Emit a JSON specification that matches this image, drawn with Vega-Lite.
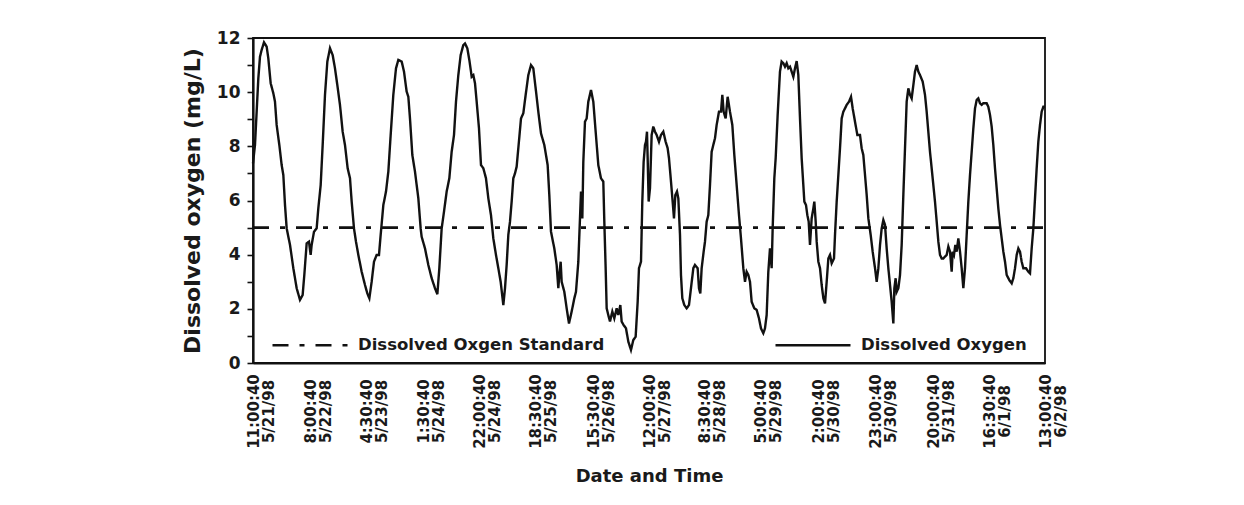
{
  "$schema": "https://vega.github.io/schema/vega-lite/v6.json",
  "width": 792,
  "height": 325,
  "autosize": {"type": "none"},
  "padding": {"left": 253, "top": 38, "right": 199, "bottom": 142},
  "background": "white",
  "config": {
    "font": "DejaVu Sans",
    "view": {"stroke": "#111", "strokeWidth": 1.8},
    "axis": {
      "labelFont": "DejaVu Sans", "labelFontWeight": "bold", "labelColor": "#1a1a1a",
      "titleFont": "DejaVu Sans", "titleFontWeight": "bold", "titleColor": "#1a1a1a",
      "grid": false, "domainColor": "#111", "domainWidth": 2.2, "tickColor": "#111"
    }
  },
  "encoding": {
    "x": {
      "field": "t", "type": "quantitative",
      "scale": {"domain": [0, 290], "nice": false, "zero": false},
      "axis": {
        "title": "Date and Time",
        "values": [0, 21, 41.5, 62.5, 83, 103.5, 124.5, 145, 165.5, 186, 207, 228, 249, 269.5, 290],
        "labelExpr": "[timeFormat(time(datetime(1998,4,21,11,0,40)) + datum.value*3600000, '%-H:%M:%S'), timeFormat(time(datetime(1998,4,21,11,0,40)) + datum.value*3600000, '%-m/%-d/%y')]",
        "labelAngle": 270, "labelAlign": "center", "labelBaseline": "middle",
        "labelFontSize": 15, "labelLineHeight": 15, "labelPadding": 48,
        "ticks": false, "tickSize": 0, "labelFlush": false, "labelOverlap": false, "labelBound": false,
        "titleFontSize": 18, "titlePadding": 19
      }
    },
    "y": {
      "field": "v", "type": "quantitative",
      "scale": {"domain": [0, 12], "nice": false},
      "axis": {
        "title": "Dissolved oxygen (mg/L)",
        "values": [0, 1, 2, 3, 4, 5, 6, 7, 8, 9, 10, 11, 12],
        "labelExpr": "datum.value % 2 == 0 ? datum.label : ''",
        "tickSize": 6, "tickWidth": 1.6, "labelFontSize": 17, "labelPadding": 7,
        "labelOverlap": false, "labelFlush": false,
        "titleFontSize": 22, "titlePadding": 12
      }
    }
  },
  "layer": [
    {
      "data": {"values": [{"t": 0, "v": 5}, {"t": 290, "v": 5}]},
      "mark": {"type": "line", "strokeWidth": 2.8},
      "encoding": {
        "color": {
          "datum": "Dissolved Oxgen Standard",
          "scale": {"domain": ["Dissolved Oxgen Standard", "Dissolved Oxygen"], "range": ["#111", "#111"]},
          "legend": {
            "title": null, "orient": "bottom-left", "direction": "horizontal", "columns": 2, "columnPadding": 160,
            "symbolType": "stroke", "symbolSize": 5625, "symbolStrokeWidth": 2.6, "symbolStrokeColor": "#111", "symbolOffset": 9,
            "labelFontSize": 16.5, "labelFont": "DejaVu Sans", "labelFontWeight": "bold", "labelColor": "#1a1a1a",
            "labelLimit": 400, "labelOffset": 9, "offset": 9, "padding": 0
          }
        },
        "strokeDash": {
          "datum": "Dissolved Oxgen Standard",
          "scale": {"domain": ["Dissolved Oxgen Standard", "Dissolved Oxygen"], "range": [[16, 11, 5, 11], [1, 0]]},
          "legend": {
            "title": null, "orient": "bottom-left", "direction": "horizontal", "columns": 2, "columnPadding": 160,
            "symbolType": "stroke", "symbolSize": 5625, "symbolStrokeWidth": 2.6, "symbolStrokeColor": "#111", "symbolOffset": 9,
            "labelFontSize": 16.5, "labelFont": "DejaVu Sans", "labelFontWeight": "bold", "labelColor": "#1a1a1a",
            "labelLimit": 400, "labelOffset": 9, "offset": 9, "padding": 0
          }
        }
      }
    },
    {
      "data": {"values": [
        {"t":0,"v":7.37},{"t":0.73,"v":8.05},{"t":1.34,"v":9.28},{"t":1.95,"v":10.51},{"t":2.56,"v":11.31},{"t":3.17,"v":11.56},{"t":4.03,"v":11.84},{"t":5.0,"v":11.68},{"t":5.61,"v":11.25},{"t":6.47,"v":10.33},{"t":7.44,"v":9.96},{"t":8.05,"v":9.65},{"t":8.66,"v":8.79},{"t":9.64,"v":8.05},{"t":10.49,"v":7.31},{"t":11.11,"v":6.94},{"t":11.72,"v":5.83},{"t":12.33,"v":4.97},{"t":13.55,"v":4.36},{"t":14.77,"v":3.5},{"t":15.99,"v":2.76},{"t":17.21,"v":2.33},{"t":18.18,"v":2.51},{"t":18.79,"v":3.25},{"t":19.65,"v":4.42},{"t":20.5,"v":4.48},{"t":21.11,"v":3.99},{"t":21.48,"v":4.36},{"t":22.34,"v":4.85},{"t":23.31,"v":4.97},{"t":23.92,"v":5.71},{"t":24.78,"v":6.57},{"t":25.51,"v":8.05},{"t":26.36,"v":9.9},{"t":27.22,"v":11.13},{"t":28.19,"v":11.62},{"t":29.17,"v":11.37},{"t":30.02,"v":10.88},{"t":30.88,"v":10.26},{"t":31.85,"v":9.53},{"t":32.83,"v":8.54},{"t":33.68,"v":8.05},{"t":34.66,"v":7.19},{"t":35.52,"v":6.82},{"t":36.13,"v":5.96},{"t":36.98,"v":4.97},{"t":37.71,"v":4.48},{"t":38.57,"v":3.99},{"t":39.79,"v":3.37},{"t":41.01,"v":2.88},{"t":41.86,"v":2.57},{"t":42.6,"v":2.39},{"t":43.45,"v":3.0},{"t":44.3,"v":3.74},{"t":45.28,"v":3.99},{"t":46.13,"v":3.99},{"t":46.75,"v":4.73},{"t":47.72,"v":5.83},{"t":48.7,"v":6.33},{"t":49.55,"v":7.06},{"t":50.41,"v":8.42},{"t":51.38,"v":9.9},{"t":52.36,"v":10.88},{"t":53.21,"v":11.19},{"t":54.44,"v":11.13},{"t":55.29,"v":10.76},{"t":56.26,"v":10.02},{"t":56.88,"v":9.83},{"t":57.48,"v":9.03},{"t":58.34,"v":7.68},{"t":59.32,"v":7.06},{"t":60.54,"v":6.08},{"t":61.39,"v":4.97},{"t":61.76,"v":4.66},{"t":62.98,"v":4.23},{"t":64.2,"v":3.62},{"t":65.42,"v":3.13},{"t":66.64,"v":2.76},{"t":67.5,"v":2.54},{"t":68.23,"v":3.5},{"t":69.08,"v":4.97},{"t":69.94,"v":5.59},{"t":70.91,"v":6.33},{"t":71.89,"v":6.82},{"t":72.74,"v":7.8},{"t":73.6,"v":8.42},{"t":74.33,"v":9.65},{"t":75.18,"v":10.63},{"t":76.04,"v":11.37},{"t":77.01,"v":11.74},{"t":77.62,"v":11.8},{"t":78.48,"v":11.62},{"t":79.21,"v":11.19},{"t":79.82,"v":10.76},{"t":80.07,"v":10.57},{"t":80.68,"v":10.63},{"t":81.29,"v":10.33},{"t":81.9,"v":9.65},{"t":82.75,"v":8.66},{"t":83.48,"v":7.31},{"t":84.34,"v":7.19},{"t":85.31,"v":6.82},{"t":86.17,"v":6.08},{"t":87.14,"v":5.46},{"t":88.0,"v":4.6},{"t":88.97,"v":3.99},{"t":89.83,"v":3.5},{"t":90.68,"v":3.0},{"t":91.66,"v":2.14},{"t":92.27,"v":2.76},{"t":92.88,"v":3.62},{"t":93.49,"v":4.73},{"t":94.1,"v":5.22},{"t":94.71,"v":5.96},{"t":95.32,"v":6.82},{"t":95.93,"v":7.0},{"t":96.54,"v":7.25},
        {"t":97.15,"v":7.93},{"t":98.13,"v":9.03},{"t":98.98,"v":9.22},{"t":99.84,"v":9.9},{"t":100.81,"v":10.63},{"t":101.79,"v":11.0},{"t":102.64,"v":10.88},{"t":103.5,"v":10.14},{"t":104.47,"v":9.28},{"t":105.45,"v":8.48},{"t":106.67,"v":8.05},{"t":107.89,"v":7.31},{"t":108.5,"v":6.2},{"t":109.11,"v":4.85},{"t":110.33,"v":4.23},{"t":111.19,"v":3.62},{"t":111.8,"v":2.76},{"t":112.16,"v":3.25},{"t":112.65,"v":3.74},{"t":113.02,"v":3.0},{"t":113.99,"v":2.63},{"t":114.85,"v":2.02},{"t":115.7,"v":1.46},{"t":116.68,"v":1.9},{"t":117.66,"v":2.39},{"t":118.26,"v":2.63},{"t":119.12,"v":3.74},{"t":119.73,"v":5.34},{"t":120.1,"v":6.33},{"t":120.59,"v":5.34},{"t":120.95,"v":7.43},{"t":121.56,"v":8.91},{"t":122.17,"v":9.03},{"t":122.78,"v":9.65},{"t":123.76,"v":10.08},{"t":124.61,"v":9.65},{"t":125.47,"v":8.54},{"t":126.44,"v":7.31},{"t":127.42,"v":6.82},{"t":128.27,"v":6.7},{"t":128.64,"v":5.22},{"t":129.13,"v":3.5},{"t":129.5,"v":2.02},{"t":130.1,"v":1.77},{"t":130.72,"v":1.53},{"t":131.57,"v":1.9},{"t":132.3,"v":1.65},{"t":133.16,"v":2.02},{"t":133.77,"v":1.77},{"t":134.5,"v":2.14},{"t":134.99,"v":1.53},{"t":135.72,"v":1.4},{"t":136.57,"v":1.28},{"t":137.43,"v":0.79},{"t":138.4,"v":0.48},{"t":139.26,"v":0.85},{"t":140.11,"v":0.97},{"t":140.85,"v":2.26},{"t":141.33,"v":3.5},{"t":142.07,"v":3.74},{"t":142.55,"v":5.96},{"t":143.04,"v":7.43},{"t":143.53,"v":8.05},{"t":143.9,"v":8.17},{"t":144.26,"v":8.54},{"t":144.51,"v":7.56},{"t":144.87,"v":5.96},{"t":145.36,"v":6.45},{"t":145.97,"v":8.42},{"t":146.58,"v":8.73},{"t":147.19,"v":8.54},{"t":147.8,"v":8.42},{"t":148.66,"v":8.17},{"t":149.39,"v":8.42},{"t":150.24,"v":8.54},{"t":151.1,"v":8.17},{"t":151.83,"v":7.93},{"t":152.32,"v":7.56},{"t":153.05,"v":6.7},{"t":153.66,"v":5.96},{"t":154.15,"v":5.34},{"t":154.64,"v":6.2},{"t":155.25,"v":6.33},{"t":155.74,"v":6.08},{"t":156.35,"v":4.73},{"t":156.71,"v":3.25},{"t":157.2,"v":2.39},{"t":157.93,"v":2.14},{"t":158.79,"v":2.02},{"t":159.64,"v":2.14},{"t":160.37,"v":2.76},{"t":161.23,"v":3.5},{"t":161.84,"v":3.62},{"t":162.81,"v":3.5},{"t":163.3,"v":2.76},{"t":163.79,"v":2.57},{"t":164.28,"v":3.5},{"t":165.01,"v":4.11},{"t":165.5,"v":4.48},{"t":166.11,"v":5.22},{"t":166.72,"v":5.46},{"t":167.33,"v":6.57},{"t":167.94,"v":7.8},{"t":169.16,"v":8.3},{"t":169.77,"v":8.79},{"t":170.63,"v":9.28},{"t":171.36,"v":9.28},{"t":171.85,"v":9.9},{"t":172.33,"v":9.28},{"t":173.07,"v":9.03},{"t":173.8,"v":9.83},{"t":174.65,"v":9.28},{"t":175.51,"v":8.79},{"t":176.24,"v":7.68},{"t":177.1,"v":6.57},{"t":177.95,"v":5.46},{"t":178.68,"v":4.6},{"t":179.54,"v":3.5},{"t":180.15,"v":3.0},{"t":180.76,"v":3.37},{"t":181.37,"v":3.25},{"t":181.98,"v":3.0},{"t":182.59,"v":2.26},{"t":183.56,"v":2.02},{"t":184.42,"v":1.96},{"t":185.27,"v":1.65},{"t":186.0,"v":1.28},{"t":186.86,"v":1.1},{"t":187.47,"v":1.28},{"t":188.08,"v":1.77},{"t":188.69,"v":3.37},{"t":189.3,"v":4.23},{"t":189.91,"v":3.5},{"t":190.28,"v":4.97},{"t":190.89,"v":6.82},{"t":191.38,"v":7.56},{"t":192.11,"v":9.16},{"t":192.96,"v":10.76},{"t":193.57,"v":11.13},
        {"t":194.19,"v":11.07},{"t":194.8,"v":10.94},{"t":195.41,"v":11.07},{"t":196.02,"v":10.88},{"t":196.63,"v":10.94},{"t":197.24,"v":10.76},{"t":197.85,"v":10.57},{"t":198.46,"v":10.88},{"t":199.07,"v":11.15},{"t":199.68,"v":10.63},{"t":200.29,"v":9.03},{"t":200.9,"v":7.56},{"t":201.51,"v":6.57},{"t":201.88,"v":5.96},{"t":202.49,"v":5.83},{"t":202.98,"v":5.46},{"t":203.47,"v":5.22},{"t":203.95,"v":4.36},{"t":204.56,"v":5.34},{"t":205.18,"v":5.71},{"t":205.54,"v":5.96},{"t":206.03,"v":5.22},{"t":206.4,"v":4.48},{"t":207.01,"v":3.74},{"t":207.62,"v":3.5},{"t":208.23,"v":2.88},{"t":208.84,"v":2.39},{"t":209.45,"v":2.2},{"t":210.06,"v":3.0},{"t":210.67,"v":3.86},{"t":211.28,"v":3.99},{"t":211.89,"v":3.68},{"t":212.74,"v":3.86},{"t":213.11,"v":4.73},{"t":213.72,"v":5.96},{"t":214.33,"v":6.94},{"t":214.94,"v":7.93},{"t":215.55,"v":9.03},{"t":216.16,"v":9.28},{"t":216.77,"v":9.4},{"t":217.38,"v":9.53},{"t":218.24,"v":9.65},{"t":218.97,"v":9.83},{"t":219.58,"v":9.4},{"t":220.43,"v":8.91},{"t":221.29,"v":8.42},{"t":222.26,"v":8.42},{"t":222.87,"v":7.93},{"t":223.48,"v":7.68},{"t":224.1,"v":6.94},{"t":224.71,"v":6.2},{"t":225.32,"v":5.34},{"t":226.17,"v":4.73},{"t":226.9,"v":4.11},{"t":227.76,"v":3.5},{"t":228.37,"v":3.0},{"t":228.98,"v":3.5},{"t":229.59,"v":4.36},{"t":230.2,"v":4.97},{"t":230.81,"v":5.28},{"t":231.42,"v":5.1},{"t":232.03,"v":4.23},{"t":232.64,"v":3.5},{"t":233.25,"v":2.88},{"t":233.86,"v":2.26},{"t":234.47,"v":1.46},{"t":234.84,"v":2.76},{"t":235.32,"v":3.13},{"t":235.69,"v":2.63},{"t":236.3,"v":2.76},{"t":236.91,"v":3.25},{"t":237.52,"v":4.36},{"t":238.13,"v":6.2},{"t":238.74,"v":7.93},{"t":239.35,"v":9.65},{"t":239.96,"v":10.14},{"t":240.57,"v":9.9},{"t":241.18,"v":9.77},{"t":241.79,"v":10.26},{"t":242.4,"v":10.76},{"t":243.01,"v":11.0},{"t":243.62,"v":10.76},{"t":244.23,"v":10.63},{"t":245.21,"v":10.39},{"t":246.06,"v":9.9},{"t":246.67,"v":9.28},{"t":247.28,"v":8.54},{"t":247.89,"v":7.8},{"t":248.87,"v":6.82},{"t":249.72,"v":5.96},{"t":250.34,"v":5.22},{"t":250.95,"v":4.48},{"t":251.56,"v":3.99},{"t":252.17,"v":3.86},{"t":252.78,"v":3.86},{"t":253.39,"v":3.93},{"t":254.0,"v":3.99},{"t":254.61,"v":4.3},{"t":255.22,"v":4.11},{"t":255.83,"v":3.37},{"t":256.19,"v":4.11},{"t":256.68,"v":3.99},{"t":257.17,"v":4.36},{"t":257.66,"v":4.11},{"t":258.27,"v":4.6},{"t":258.88,"v":4.11},{"t":259.49,"v":3.5},{"t":260.1,"v":2.76},{"t":260.71,"v":3.5},{"t":261.32,"v":4.73},{"t":261.93,"v":5.96},{"t":262.54,"v":6.94},{"t":263.15,"v":7.8},{"t":263.76,"v":8.66},{"t":264.37,"v":9.4},{"t":264.98,"v":9.71},{"t":265.59,"v":9.77},{"t":266.2,"v":9.59},{"t":266.81,"v":9.53},{"t":267.42,"v":9.59},{"t":268.64,"v":9.59},{"t":269.25,"v":9.46},{"t":269.86,"v":9.16},{"t":270.47,"v":8.73},{"t":271.08,"v":8.05},{"t":271.69,"v":7.19},{"t":272.3,"v":6.45},{"t":272.91,"v":5.71},{"t":273.53,"v":5.1},{"t":274.14,"v":4.6},{"t":274.75,"v":4.11},{"t":275.36,"v":3.74},{"t":275.97,"v":3.25},{"t":276.94,"v":3.06},{"t":277.8,"v":2.94},{"t":278.41,"v":3.13},{"t":279.02,"v":3.5},{"t":279.63,"v":3.99},{"t":280.24,"v":4.23},{"t":280.85,"v":4.11},{"t":281.46,"v":3.74},{"t":282.07,"v":3.5},{"t":283.05,"v":3.5},{"t":283.9,"v":3.37},{"t":284.51,"v":3.31},{"t":285.12,"v":4.23},{"t":285.73,"v":4.97},{"t":286.34,"v":6.08},{"t":286.95,"v":7.19},{"t":287.56,"v":8.17},{"t":288.17,"v":8.79},{"t":288.78,"v":9.28},{"t":289.39,"v":9.46},{"t":290.0,"v":9.46}
      ]},
      "mark": {"type": "line", "strokeWidth": 2.4},
      "encoding": {
        "color": {"datum": "Dissolved Oxygen"},
        "strokeDash": {"datum": "Dissolved Oxygen"}
      }
    }
  ]
}
